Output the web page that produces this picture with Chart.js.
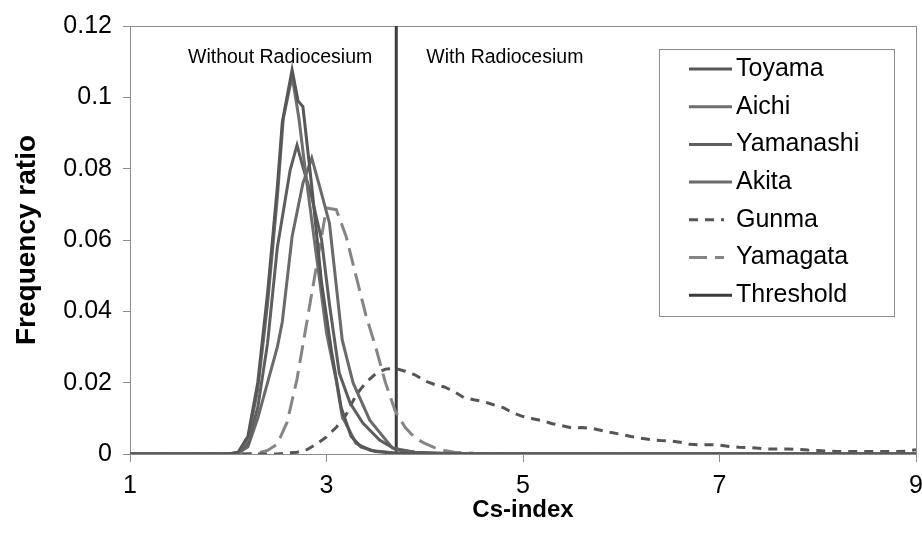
<!DOCTYPE html>
<html>
<head>
<meta charset="utf-8">
<script src="https://cdn.jsdelivr.net/npm/chart.js@4.4.1/dist/chart.umd.min.js"></script>
<style>
  html, body { margin: 0; padding: 0; background: #fff; }
</style>
</head>
<body>
<canvas id="csChart" width="922" height="536"></canvas>
<script>
// values (Cs-index vs frequency ratio)
const toyamaX = [1, 2.0, 2.1, 2.2, 2.3, 2.4, 2.5, 2.55, 2.65, 2.71, 2.76, 2.85, 2.95, 3.05, 3.15, 3.25, 3.35, 3.5, 3.7, 4.0, 9];
const toyamaY = [0, 0, 0.0005, 0.005, 0.02, 0.045, 0.075, 0.093, 0.1077, 0.099, 0.0974, 0.075, 0.048, 0.029, 0.013, 0.005, 0.002, 0.0007, 0.0002, 0, 0];

const aichiX = [1, 2.0, 2.1, 2.2, 2.3, 2.4, 2.5, 2.56, 2.65, 2.72, 2.8, 2.9, 3.0, 3.1, 3.16, 3.3, 3.45, 3.7, 4.0, 9];
const aichiY = [0, 0, 0.0004, 0.004, 0.018, 0.042, 0.072, 0.094, 0.106, 0.094, 0.076, 0.055, 0.034, 0.0205, 0.0105, 0.003, 0.001, 0.0003, 0, 0];

const yamanashiX = [1, 2.0, 2.1, 2.2, 2.3, 2.4, 2.5, 2.63, 2.70, 2.76, 2.85, 2.95, 3.03, 3.13, 3.24, 3.37, 3.54, 3.71, 3.9, 4.2, 4.6, 9];
const yamanashiY = [0, 0, 0.0003, 0.003, 0.013, 0.031, 0.058, 0.0796, 0.0866, 0.0805, 0.072, 0.06, 0.042, 0.0227, 0.0143, 0.0087, 0.0039, 0.0012, 0.0005, 0.0002, 0, 0];

const akitaX = [1, 2.0, 2.1, 2.2, 2.3, 2.4, 2.5, 2.55, 2.65, 2.76, 2.85, 2.94, 3.03, 3.16, 3.27, 3.44, 3.67, 3.9, 4.2, 9];
const akitaY = [0, 0, 0.0002, 0.002, 0.01, 0.02, 0.03, 0.037, 0.061, 0.0759, 0.083, 0.074, 0.0647, 0.032, 0.02, 0.0095, 0.0017, 0.0005, 0, 0];

const gunmaX = [1, 2.5, 2.7, 2.8, 2.9, 3.0, 3.1, 3.2, 3.3, 3.4, 3.5, 3.6, 3.7, 3.8, 3.9, 4.0, 4.1, 4.2, 4.3, 4.4, 4.5, 4.6, 4.7, 4.8, 4.9, 5.0,
  5.1, 5.2, 5.3, 5.4, 5.5, 5.6, 5.7, 5.8, 5.9, 6.0, 6.1, 6.2, 6.3, 6.4, 6.5, 6.6, 6.7, 6.8, 6.9, 7.0, 7.1, 7.2, 7.3, 7.4, 7.5,
  7.6, 7.7, 7.8, 7.9, 8.0, 8.1, 8.2, 8.4, 8.6, 8.8, 8.9, 9.0];
const gunmaY = [0, 0, 0.0005, 0.0012, 0.0028, 0.0048, 0.0075, 0.011, 0.0165, 0.020, 0.0225, 0.0238, 0.024, 0.0232, 0.0222, 0.0205,
  0.0195, 0.0188, 0.0175, 0.0158, 0.0152, 0.0147, 0.0138, 0.013, 0.0115, 0.0105, 0.0099, 0.0093, 0.0085, 0.0079, 0.0073,
  0.0074, 0.0072, 0.0066, 0.006, 0.0055, 0.0049, 0.0044, 0.004, 0.0038, 0.0037, 0.0033, 0.0027, 0.0026, 0.0026, 0.0025,
  0.0021, 0.0019, 0.0018, 0.0016, 0.0014, 0.0014, 0.0014, 0.0013, 0.0011, 0.001, 0.0008, 0.0007, 0.0007, 0.0007, 0.0007,
  0.0008, 0.0012];

const yamagataX = [1, 2.2, 2.3, 2.4, 2.5, 2.6, 2.7, 2.8, 2.9, 3.0, 3.1, 3.2, 3.3, 3.4, 3.5, 3.6, 3.7, 3.8, 3.9, 4.0, 4.1, 4.2, 4.3, 4.5, 5.0, 9];
const yamagataY = [0, 0, 0.0003, 0.001, 0.0028, 0.009, 0.021, 0.037, 0.053, 0.069, 0.0685, 0.061, 0.050, 0.039, 0.030, 0.020, 0.012,
  0.0075, 0.0045, 0.003, 0.0018, 0.001, 0.0005, 0.0002, 0, 0];

const thresholdX = [3.71, 3.71];
const thresholdY = [0, 0.12];

const xTicks = [1, 3, 5, 7, 9];
const yTickLabels = ['0', '0.02', '0.04', '0.06', '0.08', '0.1', '0.12'];

function pts(xs, ys) {
  return xs.map((x, i) => ({ x: x, y: ys[i] }));
}

const FONT = "'Liberation Sans', Arial, sans-serif";

function line(label, xs, ys, color, dash) {
  return {
    label: label,
    data: pts(xs, ys),
    borderColor: color,
    backgroundColor: color,
    borderWidth: 3,
    borderDash: dash || [],
    pointRadius: 0,
    tension: 0,
    fill: false
  };
}

// plot box (Excel-style frame round the plot area)
const framePlugin = {
  id: 'frame',
  beforeDatasetsDraw(chart) {
    const { ctx, chartArea: a } = chart;
    ctx.save();
    ctx.strokeStyle = '#8c8c8c';
    ctx.lineWidth = 1;
    ctx.strokeRect(a.left + 0.5, a.top + 0.5, a.right - a.left, a.bottom - a.top);
    ctx.restore();
  }
};

// "Without / With Radiocesium" labels either side of the threshold
const regionLabels = {
  id: 'regionLabels',
  afterDatasetsDraw(chart) {
    const { ctx, scales } = chart;
    const tx = scales.x.getPixelForValue(thresholdX[0]);
    const ty = scales.y.getPixelForValue(0.111);
    ctx.save();
    ctx.font = '19.5px ' + FONT;
    ctx.fillStyle = '#000';
    ctx.textBaseline = 'middle';
    ctx.textAlign = 'right';
    ctx.fillText('Without Radiocesium', tx - 24, ty);
    ctx.textAlign = 'left';
    ctx.fillText('With Radiocesium', tx + 30, ty);
    ctx.restore();
  }
};

// legend box drawn inside the plot area
const boxLegend = {
  id: 'boxLegend',
  afterDraw(chart) {
    const { ctx } = chart;
    const x0 = 659, y0 = 49, w = 235, h = 267;
    ctx.save();
    ctx.fillStyle = '#fff';
    ctx.fillRect(x0, y0, w, h);
    ctx.strokeStyle = '#8c8c8c';
    ctx.lineWidth = 1;
    ctx.strokeRect(x0 + 0.5, y0 + 0.5, w, h);
    ctx.font = '25px ' + FONT;
    ctx.textBaseline = 'middle';
    ctx.textAlign = 'left';
    chart.data.datasets.forEach((ds, i) => {
      const y = 69 + i * 37.7;
      ctx.strokeStyle = ds.borderColor;
      ctx.lineWidth = 3;
      ctx.setLineDash(ds.borderDash);
      ctx.beginPath();
      ctx.moveTo(689, y);
      ctx.lineTo(ds.borderDash.length ? 724 : 732, y);
      ctx.stroke();
      ctx.setLineDash([]);
      ctx.fillStyle = '#000';
      ctx.fillText(ds.label, 736, y);
    });
    ctx.restore();
  }
};

new Chart(document.getElementById('csChart').getContext('2d'), {
  type: 'line',
  data: {
    datasets: [
      line('Toyama', toyamaX, toyamaY, '#575757'),
      line('Aichi', aichiX, aichiY, '#6e6e6e'),
      line('Yamanashi', yamanashiX, yamanashiY, '#5e5e5e'),
      line('Akita', akitaX, akitaY, '#6a6a6a'),
      line('Gunma', gunmaX, gunmaY, '#555555', [9, 7]),
      line('Yamagata', yamagataX, yamagataY, '#858585', [18, 8]),
      line('Threshold', thresholdX, thresholdY, '#3c3c3c')
    ]
  },
  options: {
    responsive: false,
    animation: false,
    layout: { padding: { top: 26, right: 6, left: 0, bottom: 0 } },
    plugins: {
      legend: { display: false },
      tooltip: { enabled: false }
    },
    scales: {
      x: {
        type: 'linear',
        min: 1,
        max: 9,
        afterFit: s => {
          s.height = 82;
          s.paddingLeft = 0;
          s.paddingRight = 0;
        },
        afterBuildTicks: s => { s.ticks = xTicks.map(v => ({ value: v })); },
        ticks: {
          color: '#000',
          font: { family: FONT, size: 25 },
          padding: 9,
          maxRotation: 0
        },
        grid: { drawOnChartArea: false, tickLength: 8, color: '#8c8c8c' },
        border: { color: '#8c8c8c' },
        title: {
          display: true,
          text: 'Cs-index',
          color: '#000',
          font: { family: FONT, size: 24, weight: 'bold' },
          padding: { top: 0, bottom: 11 }
        }
      },
      y: {
        min: 0,
        max: 0.12,
        afterFit: s => {
          s.width = 130;
          s.paddingTop = 0;
          s.paddingBottom = 0;
        },
        afterBuildTicks: s => { s.ticks = yTickLabels.map(t => ({ value: parseFloat(t) })); },
        ticks: {
          color: '#000',
          font: { family: FONT, size: 25 },
          padding: 11,
          callback: (v, i) => yTickLabels[i]
        },
        grid: { drawOnChartArea: false, tickLength: 7, color: '#8c8c8c' },
        border: { color: '#8c8c8c' },
        title: {
          display: true,
          text: 'Frequency ratio',
          color: '#000',
          font: { family: FONT, size: 28, weight: 'bold' },
          padding: { top: 10, bottom: 0 }
        }
      }
    }
  },
  plugins: [framePlugin, regionLabels, boxLegend]
});
</script>
</body>
</html>
